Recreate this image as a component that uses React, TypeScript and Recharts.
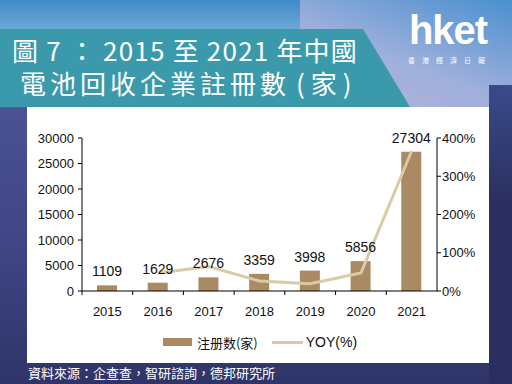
import React from "react";
import {
  ComposedChart, Bar, Line, XAxis, YAxis, Legend, LabelList,
} from "recharts";

const years = ["2015", "2016", "2017", "2018", "2019", "2020", "2021"];
const registrations = [1109, 1629, 2676, 3359, 3998, 5856, 27304];
// YOY (fraction, 1 = 100%)
const yoy = [null, 0.47, 0.64, 0.26, 0.19, 0.47, 3.66];
const leftTicks = [0, 5000, 10000, 15000, 20000, 25000, 30000];
const rightTicks = [0, 1, 2, 3, 4];

const data = years.map((y, i) => ({ year: y, count: registrations[i], yoy: yoy[i] }));

const BAR = "#a98a62";
const LINE = "#d9cba6";
const TICK_FONT = { fontFamily: "'Liberation Sans', Arial, sans-serif", fontSize: 13, fill: "#111" };

const CHART_W = 462;
const CHART_H = 256;
const PLOT_W = 355;
const STEP = PLOT_W / years.length;
const X_MARGIN = 16;

function YearTick(props: any) {
  const { x, y, payload } = props;
  const axisY = y - X_MARGIN;
  return (
    <g>
      <line x1={x - STEP / 2} x2={x - STEP / 2} y1={axisY} y2={axisY + 4} stroke="#000" />
      <text x={x} y={y} dy="0.71em" textAnchor="middle" {...TICK_FONT}>
        {payload.value}
      </text>
    </g>
  );
}

function LegendContent() {
  return (
    <div style={{ display: "flex", justifyContent: "center", alignItems: "center", height: 26, fontSize: 13, color: "#111", paddingLeft: 4 }}>
      <span style={{ display: "inline-block", width: 29, height: 8, background: BAR, marginRight: 5 }} />
      <span style={{ fontFamily: "'Noto Sans CJK SC', sans-serif", fontSize: 13 }}>注册数(家)</span>
      <span style={{ display: "inline-block", width: 31, height: 3, background: LINE, marginLeft: 14, marginRight: 3 }} />
      <span style={{ fontFamily: "'Liberation Sans', Arial, sans-serif", fontSize: 14 }}>YOY(%)</span>
    </div>
  );
}

const titleStyle: React.CSSProperties = {
  position: "absolute", color: "#fff", fontFamily: "'Noto Sans CJK TC', sans-serif",
  fontSize: 26, lineHeight: "30px", height: 30, whiteSpace: "pre",
};

export default function App() {
  return (
    <div
      style={{
        position: "absolute", left: 0, top: 0, width: 512, height: 384, overflow: "hidden",
        background: "linear-gradient(180deg, #3f8cc6 0px, #6aa6d6 28px, #8f9fcf 80px, #4a5294 110px, #3f4584 250px, #2f3468 384px)",
      }}
    >
      {/* light sky glow behind the logo */}
      <div
        style={{
          position: "absolute", left: 300, top: 0, width: 212, height: 110,
          background: "linear-gradient(200deg, #4a90cf 0%, #9fb0dc 55%, #b6b2d6 100%)",
        }}
      />
      <div style={{ position: "absolute", left: 489, top: 85, width: 23, height: 299, background: "linear-gradient(180deg, #3a4a8a, #2b2f5f 40%)" }} />

      {/* title banner */}
      <div
        style={{
          position: "absolute", left: 0, top: 29, width: 410, height: 78, background: "#3a9aab",
          clipPath: "polygon(0 0, 363px 0, 410px 100%, 0 100%)",
        }}
      />
      <div style={{ ...titleStyle, left: 12, top: 35, letterSpacing: 1.2 }}>圖 7 ： 2015 至 2021 年中國</div>
      <div style={{ ...titleStyle, left: 20, top: 68, letterSpacing: 4 }}>
        電池回收企業註冊數<span style={{ marginLeft: 6, letterSpacing: 6 }}>(家)</span>
      </div>

      {/* logo */}
      <div
        style={{
          position: "absolute", left: 404, top: 8, width: 88, textAlign: "center", color: "#fff",
          fontFamily: "'Liberation Sans', Arial, sans-serif", fontWeight: "bold", fontSize: 40, letterSpacing: -1,
        }}
      >
        hket
      </div>
      <div
        style={{
          position: "absolute", left: 408, top: 55, width: 82, color: "#fff", fontSize: 7,
          fontFamily: "'Noto Sans CJK TC', sans-serif", letterSpacing: 7, whiteSpace: "nowrap",
        }}
      >
        香港經濟日報
      </div>

      {/* white panel with chart */}
      <div style={{ position: "absolute", left: 27, top: 107, width: 462, height: 256, background: "#fff" }}>
        <ComposedChart
          width={CHART_W}
          height={CHART_H}
          data={data}
          margin={{ top: 31, right: 0, bottom: 6, left: 0 }}
        >
          <XAxis
            dataKey="year"
            xAxisId="x"
            tick={<YearTick />}
            tickLine={false}
            tickSize={0}
            tickMargin={X_MARGIN}
            height={38}
            axisLine={{ stroke: "#000" }}
            interval={0}
          />
          <YAxis
            yAxisId="left"
            orientation="left"
            width={55}
            domain={[0, 30000]}
            ticks={leftTicks}
            tick={TICK_FONT}
            tickSize={4}
            tickMargin={4}
            axisLine={{ stroke: "#000" }}
            tickLine={{ stroke: "#000" }}
            interval={0}
          />
          <YAxis
            yAxisId="right"
            orientation="right"
            width={52}
            domain={[0, 4]}
            ticks={rightTicks}
            tickFormatter={(v: number) => `${Math.round(v * 100)}%`}
            tick={{ ...TICK_FONT, textAnchor: "start" }}
            tickSize={4}
            tickMargin={1}
            axisLine={{ stroke: "#000" }}
            tickLine={{ stroke: "#000" }}
            interval={0}
          />
          <Legend verticalAlign="bottom" height={28} content={<LegendContent />} />
          <Bar
            dataKey="count"
            xAxisId="x"
            yAxisId="left"
            fill={BAR}
            barSize={20}
            isAnimationActive={false}
          >
            <LabelList
              dataKey="count"
              position="top"
              offset={9}
              style={{ ...TICK_FONT, fontSize: 14 }}
            />
          </Bar>
          <Line
            dataKey="yoy"
            xAxisId="x"
            yAxisId="right"
            stroke={LINE}
            strokeWidth={3}
            dot={false}
            connectNulls={false}
            type="linear"
            isAnimationActive={false}
          />
        </ComposedChart>
      </div>

      {/* source */}
      <div
        style={{
          position: "absolute", left: 28, top: 364, color: "#fff", fontSize: 13,
          fontFamily: "'Noto Sans CJK TC', sans-serif", lineHeight: "18px", whiteSpace: "nowrap",
        }}
      >
        資料來源：企查查，智研諮詢，德邦研究所
      </div>
    </div>
  );
}
